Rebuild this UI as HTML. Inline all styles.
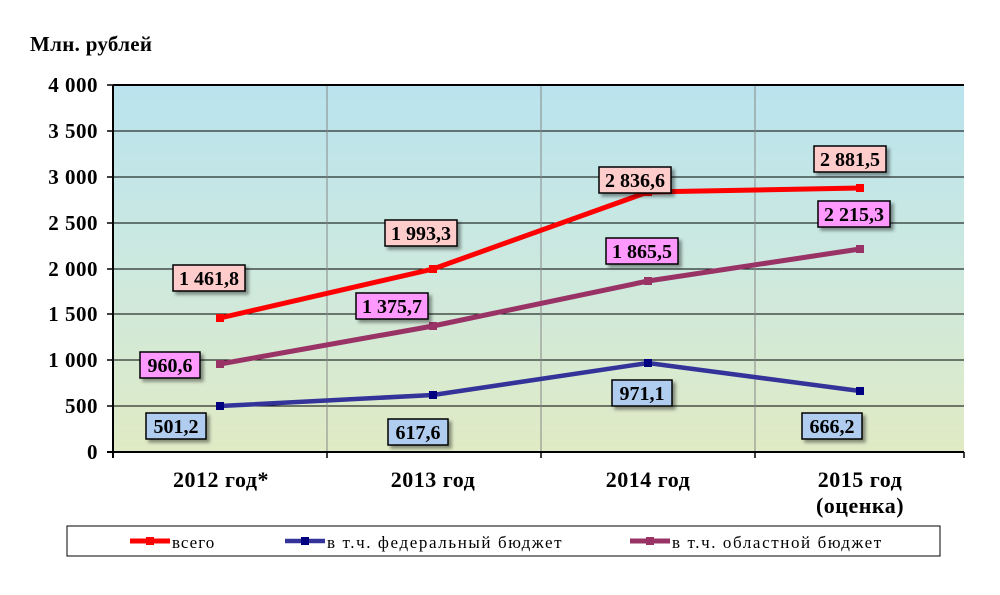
<!DOCTYPE html>
<html><head><meta charset="utf-8"><style>
body{margin:0;background:#fff;}
svg text{font-family:"Liberation Serif",serif;font-weight:bold;fill:#000;}
svg text.n{font-weight:normal;}
</style></head><body>
<svg width="1000" height="590" viewBox="0 0 1000 590" xmlns="http://www.w3.org/2000/svg">
<defs>
<linearGradient id="bg" x1="0" y1="0" x2="0" y2="1">
<stop offset="0" stop-color="#b9e3ee"/>
<stop offset="0.5" stop-color="#cde9df"/>
<stop offset="1" stop-color="#e0eac4"/>
</linearGradient>
<filter id="sh" x="-20%" y="-20%" width="150%" height="160%"><feDropShadow dx="3" dy="3" stdDeviation="1.5" flood-color="#000" flood-opacity="0.4"/></filter>
</defs>
<text x="30" y="51" font-size="21" letter-spacing="0.3">Млн. рублей</text>
<rect x="113" y="85" width="851" height="367" fill="url(#bg)"/>
<g stroke="#000" stroke-width="1">
<line x1="113" y1="131" x2="964" y2="131"/><line x1="113" y1="177" x2="964" y2="177"/>
<line x1="113" y1="223" x2="964" y2="223"/><line x1="113" y1="269" x2="964" y2="269"/>
<line x1="113" y1="314" x2="964" y2="314"/><line x1="113" y1="360" x2="964" y2="360"/>
<line x1="113" y1="406" x2="964" y2="406"/>
</g>
<g stroke="#888" stroke-width="1">
<line x1="327" y1="85" x2="327" y2="452"/><line x1="541" y1="85" x2="541" y2="452"/><line x1="755" y1="85" x2="755" y2="452"/>
</g>
<line x1="113" y1="85" x2="964" y2="85" stroke="#000" stroke-width="2"/>
<line x1="113" y1="85" x2="113" y2="458" stroke="#000" stroke-width="2"/>
<line x1="107" y1="452" x2="964" y2="452" stroke="#000" stroke-width="2"/>
<g stroke="#000" stroke-width="1.5">
<line x1="107" y1="85" x2="113" y2="85"/><line x1="107" y1="131" x2="113" y2="131"/><line x1="107" y1="177" x2="113" y2="177"/><line x1="107" y1="223" x2="113" y2="223"/><line x1="107" y1="269" x2="113" y2="269"/><line x1="107" y1="314" x2="113" y2="314"/><line x1="107" y1="360" x2="113" y2="360"/><line x1="107" y1="406" x2="113" y2="406"/>
<line x1="327" y1="452" x2="327" y2="458"/><line x1="541" y1="452" x2="541" y2="458"/><line x1="755" y1="452" x2="755" y2="458"/><line x1="964" y1="452" x2="964" y2="458"/>
</g>
<g font-size="21" text-anchor="end" letter-spacing="0.5">
<text x="98" y="92">4 000</text><text x="98" y="138">3 500</text><text x="98" y="184">3 000</text><text x="98" y="230">2 500</text><text x="98" y="276">2 000</text><text x="98" y="321">1 500</text><text x="98" y="367">1 000</text><text x="98" y="413">500</text><text x="98" y="459">0</text>
</g>
<g font-size="22" text-anchor="middle" letter-spacing="0.5">
<text x="221" y="487">2012 год*</text><text x="433" y="487">2013 год</text><text x="648" y="487">2014 год</text><text x="860" y="487">2015 год</text><text x="860" y="513">(оценка)</text>
</g>
<polyline points="220,318 433,269 648,192 860,188" fill="none" stroke="#ff0000" stroke-width="5"/>
<polyline points="220,364 433,326 648,281 860,249" fill="none" stroke="#993366" stroke-width="5"/>
<polyline points="220,406 433,395 648,363 860,391" fill="none" stroke="#333399" stroke-width="4.5"/>
<g fill="#ff0000"><rect x="216" y="314" width="8" height="8"/><rect x="429" y="265" width="8" height="8"/><rect x="644" y="188" width="8" height="8"/><rect x="856" y="184" width="8" height="8"/></g>
<g fill="#993366"><rect x="216" y="360" width="8" height="8"/><rect x="429" y="322" width="8" height="8"/><rect x="644" y="277" width="8" height="8"/><rect x="856" y="245" width="8" height="8"/></g>
<g fill="#000080"><rect x="216" y="402" width="8" height="8"/><rect x="429" y="391" width="8" height="8"/><rect x="644" y="359" width="8" height="8"/><rect x="856" y="387" width="8" height="8"/></g>
<g stroke="#000" stroke-width="1.5" filter="url(#sh)">
<rect x="173" y="265" width="72" height="26" fill="#ffcccc"/>
<rect x="385" y="220" width="72" height="26" fill="#ffcccc"/>
<rect x="599" y="167" width="72" height="26" fill="#ffcccc"/>
<rect x="814" y="146" width="72" height="26" fill="#ffcccc"/>
<rect x="140" y="352" width="60" height="26" fill="#ff99ff"/>
<rect x="356" y="293" width="72" height="26" fill="#ff99ff"/>
<rect x="606" y="238" width="72" height="26" fill="#ff99ff"/>
<rect x="818" y="201" width="72" height="26" fill="#ff99ff"/>
<rect x="146" y="413" width="60" height="26" fill="#b0cdf0"/>
<rect x="388" y="419" width="60" height="26" fill="#b0cdf0"/>
<rect x="612" y="380" width="60" height="26" fill="#b0cdf0"/>
<rect x="802" y="413" width="60" height="26" fill="#b0cdf0"/>
</g>
<g font-size="20" text-anchor="middle">
<text x="209" y="285">1 461,8</text><text x="421" y="240">1 993,3</text><text x="635" y="187">2 836,6</text><text x="850" y="166">2 881,5</text>
<text x="170" y="372">960,6</text><text x="392" y="313">1 375,7</text><text x="642" y="258">1 865,5</text><text x="854" y="221">2 215,3</text>
<text x="176" y="433">501,2</text><text x="418" y="439">617,6</text><text x="642" y="400">971,1</text><text x="832" y="433">666,2</text>
</g>
<rect x="67" y="526" width="873" height="30" fill="#fff" stroke="#000" stroke-width="1"/>
<line x1="130" y1="541" x2="170" y2="541" stroke="#ff0000" stroke-width="5"/><rect x="146" y="537" width="8" height="8" fill="#ff0000"/>
<line x1="285" y1="541" x2="325" y2="541" stroke="#333399" stroke-width="4.5"/><rect x="301" y="537" width="8" height="8" fill="#000080"/>
<line x1="630" y1="541" x2="670" y2="541" stroke="#993366" stroke-width="5"/><rect x="646" y="537" width="8" height="8" fill="#993366"/>
<g font-size="17">
<text class="n" x="172" y="548" letter-spacing="1">всего</text>
<text class="n" x="327" y="548" letter-spacing="1.6">в т.ч. федеральный бюджет</text>
<text class="n" x="672" y="548" letter-spacing="1.6">в т.ч. областной бюджет</text>
</g>
</svg>
</body></html>
